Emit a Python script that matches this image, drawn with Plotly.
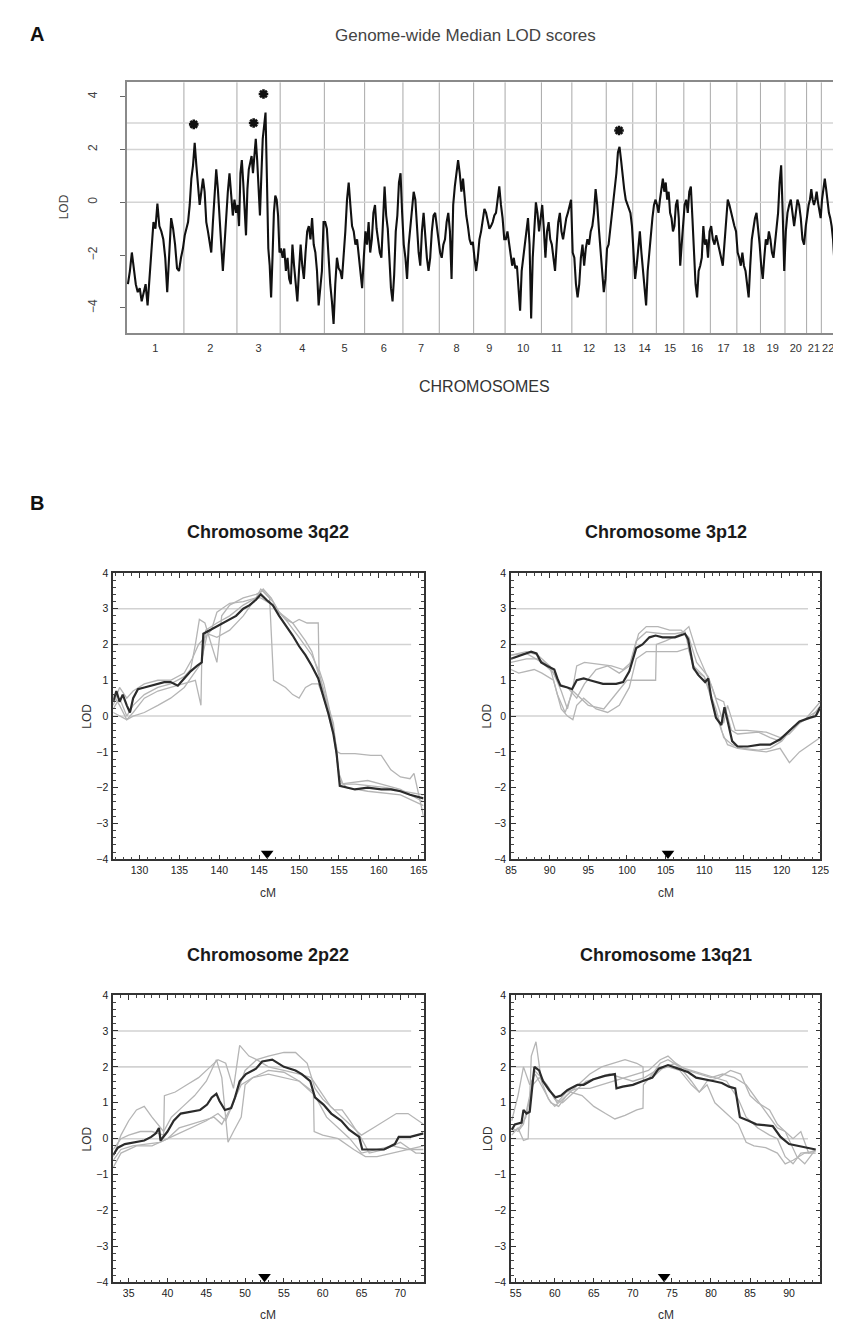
import plotly.graph_objects as go

W, H = 841, 1323
FONT = "Liberation Sans, Arial, sans-serif"

# ---------------- Panel A data ----------------
CHROMOSOMES = [str(i) for i in range(1, 23)]
CHR_LENGTH_CM = [290, 270, 220, 225, 205, 195, 185, 175, 160, 185, 155,
                 175, 135, 120, 140, 135, 135, 120, 125, 110, 75, 70]

CHR1_LOD = [-3.1, -2.6, -1.9, -2.6, -3.1, -3.4, -3.25, -3.75, -3.4, -3.1, -3.9, -2.75, -1.9, -0.75,
            -1.0, -0.05, -0.9, -1.1, -1.4, -2.1, -3.4, -2.0, -0.6, -1.0, -1.6, -2.5, -2.6, -2.1, -1.75]
CHR2_LOD = [-1.25, -1.0, -0.75, -0.1, 0.9, 1.4, 2.25, 1.4, 0.75, -0.1, 0.4, 0.9, 0.4, -0.75, -1.1, -1.6,
            -1.9, -0.75, 0.4, 1.25, 0.5, -0.75, -1.6, -2.6, -1.6, -0.4, 0.4, 1.1, 0.1, -0.5, 0.1, -0.4]
CHR3_LOD = [-0.1, -0.9, 1.1, 1.6, 0.75, -0.6, -1.25, 0.5, 1.25, 1.5, 1.75, 1.1, 1.9, 2.4, 1.6, 0.25,
            -0.5, 1.0, 2.4, 2.9, 3.4, 0.9, -1.75, -2.4, -3.6, -2.1, -0.4, 0.25, 0.1, -0.5, -1.9]
CHR4_LOD = [-1.75, -2.1, -1.75, -2.6, -2.1, -2.9, -3.1, -1.6, -2.4, -3.1, -3.75, -2.6, -1.6, -2.4,
            -2.9, -1.9, -1.1, -0.9, -1.4, -0.6, -1.6, -1.9, -2.6, -3.9, -3.1, -2.6, -0.75]
CHR5_LOD = [-0.75, -1.0, -2.1, -3.1, -3.75, -4.6, -3.1, -2.1, -2.5, -2.6, -2.9, -2.1, -1.1, 0.1, 0.75,
            -0.1, -0.9, -1.1, -1.6, -1.4, -2.1, -2.5, -3.25, -2.1]
CHR6_LOD = [-1.1, -1.6, -0.75, -1.9, -1.4, -0.4, -0.1, -1.0, -1.4, -1.9, -2.1, -1.0, 0.6, -0.5, -1.0,
            -2.1, -3.25, -3.75, -2.75, -1.1, -0.5, 0.75, 1.1, -0.4]
CHR7_LOD = [-1.6, -2.1, -2.9, -1.6, -0.9, -0.1, 0.4, 0.1, -1.1, -1.9, -2.4, -1.1, -0.4, -1.4, -2.1,
            -2.6, -2.1, -1.1, -0.5, -0.4, -0.9, -1.4]
CHR8_LOD = [-1.9, -2.1, -1.6, -1.4, -0.75, -0.4, -1.1, -2.9, -0.1, 0.6, 1.1, 1.6, 1.1, 0.4, 0.9, 0.1,
            -0.5, -0.9, -1.4, -1.6, -1.5]
CHR9_LOD = [-2.1, -2.6, -2.1, -1.4, -1.1, -0.75, -0.25, -0.4, -0.75, -1.0, -0.9, -0.75, -0.5, -0.4,
            0.1, 0.6, -0.1, -0.6, -1.4]
CHR10_LOD = [-1.4, -1.1, -1.6, -2.1, -2.4, -2.1, -2.5, -2.4, -3.1, -4.1, -2.6, -2.1, -1.4, -1.1, -0.6,
             -1.6, -4.4, -2.1, -0.75, 0.0, -0.4, -1.1, -0.6]
CHR11_LOD = [-0.1, -1.0, -2.1, -1.1, -0.75, -1.4, -1.6, -2.1, -2.6, -1.6, -0.75, -0.4, -1.1, -1.4,
             -0.9, -0.6, -0.4, -0.1, 0.1]
CHR12_LOD = [-1.9, -2.1, -3.1, -3.6, -3.1, -2.1, -1.6, -2.4, -1.75, -1.4, -1.6, -1.1, -0.9, -0.4, 0.5,
             -0.1, -1.0, -1.9, -2.6, -3.4, -2.9]
CHR13_LOD = [-1.75, -1.6, -1.1, -0.6, 0.1, 0.6, 1.1, 1.9, 2.1, 1.6, 0.9, 0.5, 0.1, -0.1, -0.25, -0.4,
             -0.9]
CHR14_LOD = [-2.1, -2.9, -2.4, -1.75, -1.1, -1.9, -2.6, -3.4, -3.9, -2.6, -1.9, -1.1, -0.6, -0.1, 0.1]
CHR15_LOD = [-0.1, -0.4, 0.1, 0.6, 0.9, 0.4, 0.75, 0.1, 0.4, -0.4, -0.6, -1.1, -0.9, -0.1, 0.1, -0.6,
             -2.4, -1.6, -0.9]
CHR16_LOD = [-0.1, 0.1, -0.4, 0.4, 0.6, -0.6, -2.1, -3.1, -3.6, -2.6, -2.4, -2.1, -0.9, -1.6, -1.4,
             -2.1, -1.1]
CHR17_LOD = [-0.9, -1.4, -1.6, -1.25, -1.5, -1.75, -2.1, -2.4, -1.6, -0.6, 0.1, -0.1, -0.4, -0.6,
             -0.9, -1.1]
CHR18_LOD = [-1.9, -2.1, -2.4, -1.9, -2.4, -2.6, -3.1, -3.6, -2.4, -1.4, -1.0, -0.6, -0.4, -0.9, -1.6]
CHR19_LOD = [-2.4, -2.9, -2.1, -1.4, -1.6, -1.1, -1.4, -1.9, -2.1, -1.6, -1.1, -0.4, 0.75, 1.4, -0.4,
             -2.6]
CHR20_LOD = [-1.1, -0.4, -0.1, 0.1, -0.4, -0.9, -0.4, 0.1, -0.1, -0.6, -1.4, -1.6, -0.9]
CHR21_LOD = [-0.4, -0.1, 0.1, 0.5, 0.1, -0.1, 0.1, 0.4, 0.0, -0.4, -0.6]
CHR22_LOD = [0.1, 0.6, 0.9, 0.5, -0.1, -0.4, -0.6, -0.9, -1.4, -2.25]

GENOME_LOD = [CHR1_LOD, CHR2_LOD, CHR3_LOD, CHR4_LOD, CHR5_LOD, CHR6_LOD, CHR7_LOD, CHR8_LOD,
              CHR9_LOD, CHR10_LOD, CHR11_LOD, CHR12_LOD, CHR13_LOD, CHR14_LOD, CHR15_LOD,
              CHR16_LOD, CHR17_LOD, CHR18_LOD, CHR19_LOD, CHR20_LOD, CHR21_LOD, CHR22_LOD]

STAR_CHR = ["2", "3", "3", "13"]
STAR_POS_CM = [50, 85, 135, 65]
STAR_LOD = [2.95, 3.0, 4.1, 2.72]

GRID_LOD = [0, 2, 3]
A_YTICKS = [-4, -2, 0, 2, 4]

# ---------------- Panel B data (cM, LOD) ----------------
REGION_TITLES = ["Chromosome 3q22", "Chromosome 3p12", "Chromosome 2p22", "Chromosome 13q21"]
REGION_XRANGE = [(126.7, 165.6), (85, 125), (33, 73), (54.4, 94)]
REGION_XTICKS = [list(range(130, 166, 5)), list(range(85, 126, 5)),
                 list(range(35, 71, 5)), list(range(55, 91, 5))]
PEAK_CM = [146.0, 105.3, 52.5, 74.0]

Q22_MEDIAN = [(126.7, 0.4), (127.1, 0.7), (127.5, 0.4), (127.9, 0.6), (128.4, 0.3), (128.8, 0.1),
              (129.2, 0.5), (129.8, 0.75), (130.6, 0.8), (131.5, 0.85), (132.3, 0.9), (133.1, 0.95),
              (133.9, 0.95), (134.8, 0.85), (135.6, 1.05), (136.4, 1.25), (137.2, 1.4), (137.8, 1.5),
              (138.0, 2.3), (139.7, 2.5), (141.3, 2.7), (142.1, 2.8), (143.0, 3.0), (143.8, 3.1),
              (144.6, 3.25), (145.2, 3.4), (145.9, 3.25), (146.7, 3.1), (147.5, 2.8), (148.3, 2.55),
              (149.2, 2.25), (150.0, 1.95), (150.8, 1.7), (151.6, 1.4), (152.4, 1.05), (153.1, 0.5),
              (153.7, 0.05), (154.3, -0.5), (154.7, -1.05), (155.1, -1.95), (156.0, -2.0),
              (157.0, -2.05), (158.6, -2.0), (160.3, -2.05), (161.5, -2.05), (162.7, -2.1),
              (163.9, -2.2), (165.6, -2.3)]
Q22_G1 = [(126.7, 0.2), (127.5, 0.5), (128.4, 0.0), (129.2, 0.3), (130.6, 0.6), (132.3, 0.8),
          (133.9, 0.9), (135.6, 1.1), (136.4, 1.3), (137.0, 2.0), (137.5, 2.7), (138.2, 2.6),
          (139.0, 2.0), (139.7, 1.5), (140.3, 2.8), (141.3, 3.1), (143.0, 3.3), (144.6, 3.4),
          (145.5, 3.5), (146.3, 3.3), (146.8, 1.0), (147.5, 0.9), (148.3, 0.8), (149.2, 0.6),
          (150.0, 0.5), (150.8, 0.8), (151.6, 0.9), (152.4, 0.9), (153.1, 0.5), (153.7, 0.0),
          (154.3, -0.5), (155.0, -1.6), (155.5, -1.9), (157.0, -1.9), (159.0, -1.95),
          (161.0, -2.0), (163.0, -2.1), (165.6, -2.2)]
Q22_G2 = [(126.7, 0.6), (127.5, 0.3), (128.4, -0.1), (129.2, 0.1), (130.6, 0.5), (132.3, 0.7),
          (133.9, 0.8), (135.6, 0.9), (137.0, 1.0), (137.7, 0.3), (137.8, 1.6), (138.5, 2.3),
          (139.7, 2.2), (141.3, 2.4), (143.0, 2.8), (144.6, 3.3), (145.5, 3.55), (146.5, 3.3),
          (147.5, 2.9), (148.3, 2.7), (149.2, 2.6), (150.0, 2.7), (151.0, 2.6), (152.4, 2.6),
          (152.5, 1.3), (153.1, 0.9), (153.7, 0.3), (154.3, -0.4), (154.8, -1.0), (155.2, -1.05),
          (157.0, -1.05), (159.0, -1.1), (160.3, -1.1), (161.5, -1.5), (162.7, -1.7),
          (163.9, -1.75), (164.4, -1.6), (165.6, -2.8)]
Q22_G3 = [(126.7, 0.1), (127.5, 0.0), (128.4, -0.1), (129.2, 0.0), (130.6, 0.1), (132.3, 0.3),
          (133.9, 0.5), (135.6, 0.8), (137.2, 1.3), (137.8, 1.5), (138.3, 2.4), (139.7, 2.6),
          (141.3, 2.8), (143.0, 3.1), (144.6, 3.3), (145.2, 3.3), (146.7, 3.1), (148.3, 2.7),
          (150.0, 2.2), (151.6, 1.7), (152.4, 1.3), (153.1, 0.7), (154.3, -0.3), (155.1, -1.8),
          (156.0, -2.0), (158.6, -2.1), (160.3, -2.15), (162.7, -2.2), (165.6, -2.5)]
Q22_G4 = [(126.7, 0.3), (127.5, 0.8), (128.4, 0.5), (129.2, 0.7), (130.6, 0.9), (132.3, 1.0),
          (133.9, 1.0), (135.6, 1.2), (136.6, 1.6), (137.4, 2.0), (138.2, 2.2), (139.0, 2.4),
          (139.7, 2.9), (141.3, 3.15), (143.0, 3.2), (144.6, 3.3), (145.2, 3.55), (146.7, 3.2),
          (147.5, 2.9), (149.2, 2.6), (150.8, 2.1), (151.6, 1.8), (152.4, 1.2), (153.1, 0.7),
          (154.3, -0.2), (155.1, -1.9), (157.0, -1.85), (158.6, -1.8), (160.3, -1.9),
          (162.7, -2.05), (165.6, -2.4)]

P12_MEDIAN = [(85.0, 1.6), (86.4, 1.7), (87.6, 1.8), (88.3, 1.75), (88.9, 1.5), (89.7, 1.4),
              (90.6, 1.3), (91.0, 1.05), (91.4, 0.85), (92.3, 0.8), (92.9, 0.75), (93.5, 1.0),
              (94.4, 1.05), (95.2, 1.0), (96.9, 0.9), (98.6, 0.9), (99.5, 0.95), (100.3, 1.25),
              (101.2, 1.9), (102.0, 2.0), (102.9, 2.2), (103.7, 2.25), (104.6, 2.2), (106.2, 2.2),
              (107.5, 2.3), (107.9, 2.15), (108.6, 1.35), (109.2, 1.15), (110.1, 0.95),
              (110.5, 1.05), (110.9, 0.5), (111.5, -0.05), (112.2, -0.25), (112.6, 0.25),
              (113.0, -0.15), (113.6, -0.7), (114.3, -0.85), (115.6, -0.85), (117.2, -0.8),
              (118.5, -0.8), (119.8, -0.65), (121.1, -0.4), (122.3, -0.15), (123.6, -0.05),
              (124.4, 0.0), (125.0, 0.25)]
P12_G1 = [(85, 1.3), (86, 1.2), (88, 1.3), (89, 1.2), (90.5, 1.0), (91.5, 0.2), (92.3, 0.0),
          (93.0, -0.1), (93.5, 0.3), (94.4, 0.5), (96, 0.2), (97.5, 0.1), (99, 0.3), (100.3, 0.8),
          (101.2, 1.6), (102.5, 1.8), (104.6, 1.8), (106.5, 1.8), (107.9, 1.9), (108.6, 1.4),
          (110, 1.1), (111, 0.4), (112.2, -0.4), (113, -0.8), (114.3, -0.9), (116, -0.95),
          (118, -1.0), (119.8, -0.9), (121, -1.3), (122.3, -1.0), (124, -0.75), (125, -0.6)]
P12_G2 = [(85, 1.7), (87, 1.75), (89, 1.5), (90.5, 1.2), (91.5, 0.7), (92.3, 0.2), (93, 0.8),
          (93.5, 1.4), (94.5, 1.5), (96, 1.45), (98, 1.4), (99.5, 1.3), (100.5, 1.5), (101.5, 2.3),
          (102.5, 2.5), (104, 2.5), (105.5, 2.4), (107, 2.4), (108, 2.2), (109, 1.5), (110.5, 1.1),
          (111.5, 0.5), (112.5, 0.4), (113.5, -0.4), (114.3, -0.5), (117, -0.45), (118.5, -0.6),
          (119.8, -0.7), (121, -0.4), (122.5, -0.15), (124, 0.0), (125, 0.3)]
P12_G3 = [(85, 1.5), (87, 1.6), (88.5, 1.6), (90, 1.4), (91, 0.6), (92, 0.1), (93, 0.7),
          (94, 0.5), (95, 0.3), (97, 0.2), (98.5, 0.6), (100, 1.0), (102, 1.0), (103.7, 1.0),
          (103.8, 2.0), (105, 2.1), (107, 2.3), (108, 2.5), (109, 1.8), (110, 1.3), (111, 0.8),
          (112.5, -0.2), (113, 0.3), (114, -0.4), (115.5, -0.4), (118, -0.45), (119.8, -0.6),
          (121, -0.5), (122.3, -0.2), (123.6, 0.0), (125, 0.2)]
P12_G4 = [(85, 1.7), (87, 1.8), (88.5, 1.7), (90, 1.4), (91.2, 0.9), (92.3, 0.8), (93.5, 0.5),
          (94.5, 0.9), (96, 1.3), (97.5, 1.4), (99, 1.2), (100.3, 1.4), (101.2, 2.1),
          (102.5, 2.35), (104.6, 2.3), (106.2, 2.3), (107.5, 2.35), (108.6, 1.3), (110, 1.1),
          (111.5, 0.2), (112.5, -0.6), (113.6, -0.8), (115, -0.9), (117, -0.95), (118.5, -0.9),
          (120, -0.7), (121.5, -0.3), (123, -0.1), (125, 0.4)]

P22_MEDIAN = [(33.0, -0.45), (33.6, -0.25), (34.5, -0.15), (35.8, -0.1), (37.0, -0.05),
              (37.9, 0.05), (38.5, 0.15), (38.9, 0.3), (39.1, -0.05), (40.0, 0.2), (40.8, 0.5),
              (41.7, 0.7), (42.9, 0.75), (44.2, 0.8), (45.1, 0.95), (45.7, 1.15), (46.3, 1.25),
              (46.7, 1.05), (47.4, 0.8), (48.2, 0.85), (48.7, 1.15), (49.3, 1.6), (50.1, 1.8),
              (51.4, 1.95), (52.2, 2.15), (53.5, 2.2), (55.0, 2.0), (56.5, 1.9), (57.3, 1.8),
              (58.4, 1.6), (59.0, 1.15), (60.1, 0.95), (61.1, 0.7), (62.4, 0.5), (63.4, 0.25),
              (64.7, 0.05), (65.1, -0.3), (66.6, -0.3), (67.9, -0.3), (69.3, -0.15), (69.8, 0.05),
              (71.3, 0.05), (73.0, 0.15)]
P22_G1 = [(33, -0.3), (34, 0.0), (35, 0.1), (36.5, 0.2), (38, 0.2), (39.5, 0.1), (39.6, 1.2),
          (41, 1.3), (42.5, 1.5), (44, 1.7), (45.5, 2.0), (46.5, 2.2), (47.5, 2.1), (48.5, 1.4),
          (49.3, 2.6), (50.5, 2.3), (51.5, 2.2), (53, 2.0), (55, 1.9), (57, 1.8), (58.5, 1.7),
          (60, 1.2), (61, 0.9), (62.5, 0.6), (64, 0.3), (65, 0.1), (66.5, 0.3), (68, 0.5),
          (69.5, 0.7), (71, 0.7), (73, 0.4)]
P22_G2 = [(33, -0.5), (34, 0.1), (35, 0.5), (36, 0.8), (37, 0.9), (38, 0.6), (39.5, 0.2),
          (40.5, 0.6), (42, 0.9), (43.5, 1.2), (45, 1.6), (46.3, 2.2), (47, 1.7), (47.8, -0.1),
          (48.5, 0.2), (49.5, 0.6), (50, 1.5), (51, 1.7), (53, 1.8), (55, 1.7), (57, 1.6),
          (58.8, 1.3), (58.9, 0.2), (60, 0.1), (62, 0.0), (64, -0.3), (65.5, -0.5), (67, -0.5),
          (69, -0.4), (71, -0.3), (73, -0.2)]
P22_G3 = [(33, -0.6), (34, -0.3), (35.5, -0.2), (37, -0.15), (39, -0.1), (41, 0.1), (43, 0.3),
          (45, 0.5), (46.5, 0.7), (47.5, 0.5), (48.5, 1.0), (50, 1.9), (51.5, 2.2), (53, 2.3),
          (55, 2.4), (56.5, 2.4), (58, 2.1), (59, 1.4), (60, 1.1), (61.5, 0.8), (62.5, 0.8),
          (63.5, 0.5), (65, 0.0), (66, -0.4), (68, -0.3), (70, -0.1), (72, -0.4), (73, -0.4)]
P22_G4 = [(33, -0.8), (34, -0.4), (36, -0.2), (38, -0.2), (40, 0.0), (41.5, 0.3), (43, 0.4),
          (44.5, 0.5), (46, 0.6), (47, 0.4), (48, 0.8), (49.5, 1.5), (51, 1.7), (53, 1.9),
          (55, 1.85), (57, 1.6), (59, 1.2), (60.5, 0.6), (62, 0.3), (63.5, 0.0), (65, -0.4),
          (67, -0.3), (69, -0.2), (71, -0.3), (73, -0.3)]

Q21_MEDIAN = [(54.5, 0.25), (54.9, 0.4), (55.75, 0.45), (56.0, 0.8), (56.4, 0.7), (56.8, 0.75),
              (57.2, 1.6), (57.4, 2.0), (58.0, 1.9), (58.5, 1.6), (59.3, 1.35), (60.1, 1.15),
              (60.8, 1.2), (61.6, 1.35), (62.9, 1.5), (63.7, 1.5), (64.9, 1.65), (66.4, 1.75),
              (67.7, 1.8), (67.9, 1.4), (68.7, 1.45), (70.0, 1.5), (71.2, 1.6), (72.5, 1.7),
              (73.3, 1.95), (74.5, 2.05), (75.8, 1.95), (77.1, 1.85), (78.1, 1.7), (79.4, 1.65),
              (80.4, 1.6), (81.4, 1.55), (82.3, 1.45), (83.1, 1.4), (83.7, 0.6), (84.8, 0.5),
              (85.8, 0.4), (87.9, 0.35), (88.9, 0.05), (90.0, -0.15), (91.3, -0.2), (92.1, -0.25),
              (93.4, -0.3)]
Q21_G1 = [(54.5, 0.1), (55.3, 0.3), (56.0, -0.05), (56.6, 0.0), (57.0, 2.3), (57.6, 2.7),
          (58.3, 1.6), (59.2, 1.1), (60.0, 0.9), (61.0, 1.1), (62.0, 1.3), (63.5, 1.2), (65.0, 0.9),
          (66.5, 0.7), (67.7, 0.55), (69.0, 0.65), (70.5, 0.8), (71.3, 0.85), (71.35, 1.5),
          (72.5, 1.8), (73.5, 2.1), (74.5, 2.2), (76, 2.0), (77.5, 1.6), (78.5, 1.3), (79.5, 1.5),
          (80.5, 1.0), (81.5, 0.8), (82.5, 0.6), (83.5, 0.4), (84.5, -0.1), (85.5, -0.2),
          (87, -0.25), (88.5, -0.4), (89.5, -0.7), (90.5, -0.6), (92, -0.4), (93.4, -0.4)]
Q21_G2 = [(54.5, 0.5), (55.3, 1.2), (56.0, 2.0), (56.8, 1.5), (57.5, 1.8), (58.5, 1.4),
          (59.5, 1.0), (60.5, 0.9), (61.5, 1.2), (63, 1.5), (64.5, 1.8), (66, 2.0), (67.5, 2.1),
          (69, 2.2), (70.5, 2.1), (71.3, 2.0), (71.35, 1.6), (72.5, 1.7), (74, 2.0), (75.5, 2.1),
          (77, 1.9), (78.5, 1.8), (80, 1.7), (81.5, 1.8), (83, 1.7), (84.5, 1.5), (85.5, 1.2),
          (86.5, 0.9), (87.5, 0.6), (88.5, 0.3), (89.5, 0.2), (90.5, 0.0), (91.5, 0.2),
          (92.5, -0.4), (93.4, -0.3)]
Q21_G3 = [(54.5, 0.3), (55.3, 0.2), (56.0, 0.4), (56.8, 1.2), (57.4, 1.9), (58.3, 1.7),
          (59.3, 1.4), (60.3, 1.0), (61.5, 1.3), (63, 1.4), (64.5, 1.4), (66, 1.5), (67.5, 1.6),
          (69, 1.7), (70.5, 1.8), (72, 1.9), (73.5, 2.2), (74.5, 2.3), (76, 2.0), (77.5, 1.9),
          (79, 1.8), (80.5, 1.7), (82, 1.6), (83.5, 1.1), (84.5, 0.6), (86, 0.3), (87.5, 0.1),
          (88.5, 0.0), (89.5, -0.5), (90.5, -0.7), (91.5, -0.4), (93.4, -0.35)]
Q21_G4 = [(54.5, 0.2), (55.5, 0.3), (56.3, 0.6), (57.2, 1.5), (58, 1.7), (59, 1.5), (60, 1.1),
          (61, 1.0), (62.5, 1.3), (64, 1.6), (65.5, 1.7), (67, 1.8), (68.5, 1.7), (70, 1.6),
          (71.5, 1.7), (73, 1.9), (74.5, 2.0), (76, 1.9), (77.5, 1.5), (78.5, 1.3), (79.5, 1.6),
          (81, 1.7), (82.5, 1.9), (83.8, 1.8), (85, 1.2), (86, 1.0), (87.5, 0.8), (88.5, 0.4),
          (89.5, 0.2), (91, -0.5), (92, -0.7), (93.4, -0.3)]

REGION_MEDIANS = [Q22_MEDIAN, P12_MEDIAN, P22_MEDIAN, Q21_MEDIAN]
REGION_FAMILIES = [[Q22_G1, Q22_G2, Q22_G3, Q22_G4], [P12_G1, P12_G2, P12_G3, P12_G4],
                   [P22_G1, P22_G2, P22_G3, P22_G4], [Q21_G1, Q21_G2, Q21_G3, Q21_G4]]
B_YRANGE = (-4, 4)


# ---------------- helpers (layout only) ----------------
def fx(px):
    return px / W


def fy(py):
    return 1 - py / H


fig = go.Figure()

# ---------- Panel A ----------
starts = []
acc = 0
for L in CHR_LENGTH_CM:
    starts.append(acc)
    acc += L
TOTAL_CM = acc

gx, gy = [], []
for s, L, vals in zip(starts, CHR_LENGTH_CM, GENOME_LOD):
    n = len(vals)
    for k, v in enumerate(vals):
        gx.append(s + (k + 0.5) * L / n)
        gy.append(v)

fig.add_trace(go.Scatter(x=gx, y=gy, mode="lines", line=dict(color="#111111", width=2.1),
                         xaxis="x", yaxis="y", showlegend=False, hoverinfo="skip"))

sx = [starts[CHROMOSOMES.index(c)] + p for c, p in zip(STAR_CHR, STAR_POS_CM)]
fig.add_trace(go.Scatter(x=sx, y=STAR_LOD, mode="markers",
                         marker=dict(symbol="asterisk-open", size=8, color="#111",
                                     line=dict(color="#111", width=2.6)),
                         xaxis="x", yaxis="y", showlegend=False, hoverinfo="skip"))

shapes = []
for s in starts[1:]:
    shapes.append(dict(type="line", xref="x", yref="y domain", x0=s, x1=s, y0=0, y1=1,
                       line=dict(color="#a8a8a8", width=1), layer="below"))
for g in GRID_LOD:
    shapes.append(dict(type="line", xref="x domain", yref="y", x0=0, x1=1, y0=g, y1=g,
                       line=dict(color="#d4d4d4", width=1.5), layer="below"))

centers = [s + L / 2 for s, L in zip(starts, CHR_LENGTH_CM)]

layout = dict(
    width=W, height=H, margin=dict(l=0, r=0, t=0, b=0),
    paper_bgcolor="white", plot_bgcolor="white",
    font=dict(family=FONT, color="#222"),
    showlegend=False,
    xaxis=dict(domain=[fx(115), fx(836)], anchor="y", range=[0, TOTAL_CM],
               tickmode="array", tickvals=centers, ticktext=CHROMOSOMES, tickangle=0,
               tickfont=dict(size=11, color="#333"), ticks="", ticklabelstandoff=4,
               showgrid=False, zeroline=False, showline=True, mirror=True,
               linecolor="#8a8a8a", linewidth=2),
    yaxis=dict(domain=[fy(322), fy(69)], anchor="x", range=[-4.95, 4.54],
               tickmode="array", tickvals=A_YTICKS, tickangle=-90,
               tickfont=dict(size=12, color="#444"), ticks="outside", ticklen=5,
               tickcolor="#666", ticklabelstandoff=18,
               showgrid=False, zeroline=False, showline=True, mirror=True,
               linecolor="#8a8a8a", linewidth=2),
)

annotations = [
    dict(text="<b>A</b>", x=fx(14), y=fy(20), xref="paper", yref="paper", xanchor="left",
         yanchor="middle", showarrow=False, font=dict(size=20, color="#111")),
    dict(text="<b>B</b>", x=fx(14), y=fy(493), xref="paper", yref="paper", xanchor="left",
         yanchor="middle", showarrow=False, font=dict(size=20, color="#111")),
    dict(text="Genome-wide Median LOD scores", x=fx(460), y=fy(22), xref="paper", yref="paper",
         xanchor="center", yanchor="middle", showarrow=False, font=dict(size=17, color="#444")),
    dict(text="CHROMOSOMES", x=fx(479), y=fy(376), xref="paper", yref="paper",
         xanchor="center", yanchor="middle", showarrow=False, font=dict(size=16, color="#333")),
    dict(text="LOD", x=fx(51), y=fy(195), xref="paper", yref="paper", textangle=-90,
         xanchor="center", yanchor="middle", showarrow=False, font=dict(size=12, color="#444")),
]

# ---------- Panel B ----------
B_FRAMES = [(101, 417, 564, 853), (506, 821, 564, 853), (101, 417, 990, 1280), (506, 821, 990, 1280)]
B_TITLE_Y = [523, 523, 950, 950]
B_CM_Y = [887, 887, 1313, 1313]
B_LOD_X = [74, 482, 74, 482]

for i in range(4):
    k = i + 2
    xa, ya = f"x{k}", f"y{k}"
    x0p, x1p, y0p, y1p = B_FRAMES[i]
    layout[f"xaxis{k}"] = dict(
        domain=[fx(x0p), fx(x1p)], anchor=ya, range=list(REGION_XRANGE[i]),
        tickmode="array", tickvals=REGION_XTICKS[i], tickfont=dict(size=10.5, color="#222"),
        ticks="inside", ticklen=5, tickcolor="#333", mirror="ticks", showline=True,
        linecolor="#333", linewidth=1.5, showgrid=False, zeroline=False,
        minor=dict(ticks="inside", ticklen=3, dtick=1, tickcolor="#444", showgrid=False))
    layout[f"yaxis{k}"] = dict(
        domain=[fy(y1p), fy(y0p)], anchor=xa, range=list(B_YRANGE), dtick=1, tick0=0,
        tickfont=dict(size=10.5, color="#222"), ticks="inside", ticklen=5, tickcolor="#333",
        mirror="ticks", showline=True, linecolor="#333", linewidth=1.5, showgrid=False,
        zeroline=False, ticklabelstandoff=1,
        minor=dict(ticks="inside", ticklen=3, dtick=0.2, tickcolor="#444", showgrid=False))

    for g in GRID_LOD:
        shapes.append(dict(type="line", xref=f"{xa} domain", yref=ya, x0=0, x1=0.96, y0=g, y1=g,
                           line=dict(color="#d2d2d2", width=1.6), layer="below"))

    for fam in REGION_FAMILIES[i]:
        fig.add_trace(go.Scatter(x=[p[0] for p in fam], y=[p[1] for p in fam], mode="lines",
                                 line=dict(color="#b5b5b5", width=1.3),
                                 xaxis=xa, yaxis=ya, showlegend=False, hoverinfo="skip"))
    med = REGION_MEDIANS[i]
    fig.add_trace(go.Scatter(x=[p[0] for p in med], y=[p[1] for p in med], mode="lines",
                             line=dict(color="#2b2b2b", width=2.2),
                             xaxis=xa, yaxis=ya, showlegend=False, hoverinfo="skip"))
    fig.add_trace(go.Scatter(x=[PEAK_CM[i]], y=[B_YRANGE[0] + 0.16], mode="markers",
                             marker=dict(symbol="triangle-down", size=11, color="#000"),
                             xaxis=xa, yaxis=ya, showlegend=False, hoverinfo="skip",
                             cliponaxis=False))

    annotations.append(dict(text=f"<b>{REGION_TITLES[i]}</b>", x=fx((x0p + x1p) / 2),
                            y=fy(B_TITLE_Y[i]), xref="paper", yref="paper", xanchor="center",
                            yanchor="middle", showarrow=False,
                            font=dict(size=18, color="#1a1a1a")))
    annotations.append(dict(text="cM", x=fx((x0p + x1p) / 2), y=fy(B_CM_Y[i]), xref="paper",
                            yref="paper", xanchor="center", yanchor="middle", showarrow=False,
                            font=dict(size=12, color="#333")))
    annotations.append(dict(text="LOD", x=fx(B_LOD_X[i]), y=fy((y0p + y1p) / 2), xref="paper",
                            yref="paper", xanchor="center", yanchor="middle", textangle=-90,
                            showarrow=False, font=dict(size=12, color="#333")))

layout["shapes"] = shapes
layout["annotations"] = annotations
fig.update_layout(**layout)

fig.write_html("out.html")
